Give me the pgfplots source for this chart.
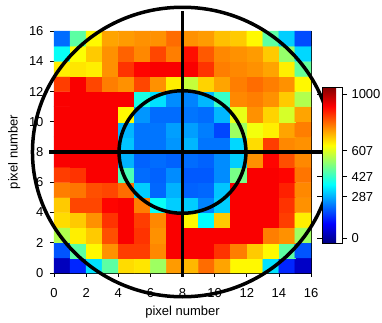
\documentclass[border=0pt]{standalone}
\usepackage{pgfplots}
\pgfplotsset{compat=1.18}
\usepackage{fontspec}
\setmainfont{Liberation Sans}
\begin{document}
\begin{tikzpicture}
\begin{axis}[
 at={(0,0)}, anchor=south west,
 scale only axis, width=257pt, height=242pt,
 xmin=0, xmax=16, ymin=0, ymax=16,
 enlargelimits=false,
 xtick={0,2,...,16}, ytick={0,2,...,16},
 tick align=outside, tick pos=left, major tick length=4pt,
 tick style={black, line width=0.6pt},
 /pgf/number format/assume math mode=true,
 ticklabel style={font=\fontsize{13}{15}\selectfont},
 xticklabel style={yshift=-8pt},
 yticklabel style={xshift=-3pt},
 label style={font=\fontsize{13}{15}\selectfont},
 xlabel={pixel number}, ylabel={pixel number},
 xlabel style={at={(axis description cs:0.5,0)}, anchor=center, yshift=-39pt},
 ylabel style={at={(axis description cs:-0.155,0.5)}, anchor=center},
 colormap/jet, point meta min=-35, point meta max=1050,
 colorbar,
 colorbar style={
   at={(1.0428,0.124)}, anchor=south west,
   scale only axis, width=20pt, height=156pt,
   ytick={0,287,427,607,1000},
   yticklabel pos=right,
   tick align=outside, major tick length=5pt,
   /pgf/number format/assume math mode=true,
   /pgf/number format/1000 sep={},
   yticklabel style={font=\fontsize{13}{15}\selectfont, xshift=1pt},
 },
 clip=false,
]
\addplot[matrix plot*, mesh/cols=16, mesh/rows=16, point meta=explicit] coordinates {
(0.5,0.5)[30] (1.5,0.5)[140] (2.5,0.5)[340] (3.5,0.5)[470] (4.5,0.5)[680] (5.5,0.5)[670] (6.5,0.5)[540] (7.5,0.5)[750] (8.5,0.5)[720] (9.5,0.5)[800] (10.5,0.5)[740] (11.5,0.5)[650] (12.5,0.5)[650] (13.5,0.5)[340] (14.5,0.5)[140] (15.5,0.5)[40]
(0.5,1.5)[190] (1.5,1.5)[470] (2.5,1.5)[650] (3.5,1.5)[760] (4.5,1.5)[850] (5.5,1.5)[850] (6.5,1.5)[770] (7.5,1.5)[920] (8.5,1.5)[920] (9.5,1.5)[920] (10.5,1.5)[860] (11.5,1.5)[780] (12.5,1.5)[700] (13.5,1.5)[650] (14.5,1.5)[470] (15.5,1.5)[190]
(0.5,2.5)[560] (1.5,2.5)[660] (2.5,2.5)[700] (3.5,2.5)[830] (4.5,2.5)[920] (5.5,2.5)[860] (6.5,2.5)[760] (7.5,2.5)[920] (8.5,2.5)[920] (9.5,2.5)[920] (10.5,2.5)[920] (11.5,2.5)[920] (12.5,2.5)[920] (13.5,2.5)[780] (14.5,2.5)[760] (15.5,2.5)[540]
(0.5,3.5)[680] (1.5,3.5)[700] (2.5,3.5)[760] (3.5,3.5)[860] (4.5,3.5)[920] (5.5,3.5)[850] (6.5,3.5)[770] (7.5,3.5)[920] (8.5,3.5)[650] (9.5,3.5)[370] (10.5,3.5)[700] (11.5,3.5)[920] (12.5,3.5)[920] (13.5,3.5)[920] (14.5,3.5)[850] (15.5,3.5)[660]
(0.5,4.5)[700] (1.5,4.5)[840] (2.5,4.5)[840] (3.5,4.5)[910] (4.5,4.5)[920] (5.5,4.5)[780] (6.5,4.5)[380] (7.5,4.5)[320] (8.5,4.5)[320] (9.5,4.5)[240] (10.5,4.5)[320] (11.5,4.5)[920] (12.5,4.5)[920] (13.5,4.5)[920] (14.5,4.5)[860] (15.5,4.5)[760]
(0.5,5.5)[780] (1.5,5.5)[790] (2.5,5.5)[830] (3.5,5.5)[840] (4.5,5.5)[800] (5.5,5.5)[320] (6.5,5.5)[210] (7.5,5.5)[290] (8.5,5.5)[205] (9.5,5.5)[210] (10.5,5.5)[310] (11.5,5.5)[920] (12.5,5.5)[920] (13.5,5.5)[920] (14.5,5.5)[880] (15.5,5.5)[770]
(0.5,6.5)[850] (1.5,6.5)[860] (2.5,6.5)[920] (3.5,6.5)[920] (4.5,6.5)[450] (5.5,6.5)[215] (6.5,6.5)[205] (7.5,6.5)[250] (8.5,6.5)[195] (9.5,6.5)[195] (10.5,6.5)[250] (11.5,6.5)[500] (12.5,6.5)[920] (13.5,6.5)[920] (14.5,6.5)[910] (15.5,6.5)[790]
(0.5,7.5)[920] (1.5,7.5)[920] (2.5,7.5)[920] (3.5,7.5)[920] (4.5,7.5)[290] (5.5,7.5)[205] (6.5,7.5)[215] (7.5,7.5)[205] (8.5,7.5)[215] (9.5,7.5)[205] (10.5,7.5)[250] (11.5,7.5)[320] (12.5,7.5)[760] (13.5,7.5)[910] (14.5,7.5)[830] (15.5,7.5)[770]
(0.5,8.5)[920] (1.5,8.5)[920] (2.5,8.5)[920] (3.5,8.5)[920] (4.5,8.5)[310] (5.5,8.5)[225] (6.5,8.5)[225] (7.5,8.5)[260] (8.5,8.5)[295] (9.5,8.5)[225] (10.5,8.5)[225] (11.5,8.5)[330] (12.5,8.5)[680] (13.5,8.5)[850] (14.5,8.5)[770] (15.5,8.5)[760]
(0.5,9.5)[920] (1.5,9.5)[920] (2.5,9.5)[920] (3.5,9.5)[920] (4.5,9.5)[295] (5.5,9.5)[225] (6.5,9.5)[225] (7.5,9.5)[270] (8.5,9.5)[270] (9.5,9.5)[235] (10.5,9.5)[175] (11.5,9.5)[540] (12.5,9.5)[630] (13.5,9.5)[660] (14.5,9.5)[740] (15.5,9.5)[780]
(0.5,10.5)[920] (1.5,10.5)[920] (2.5,10.5)[920] (3.5,10.5)[920] (4.5,10.5)[650] (5.5,10.5)[260] (6.5,10.5)[215] (7.5,10.5)[215] (8.5,10.5)[225] (9.5,10.5)[215] (10.5,10.5)[295] (11.5,10.5)[620] (12.5,10.5)[760] (13.5,10.5)[690] (14.5,10.5)[600] (15.5,10.5)[740]
(0.5,11.5)[920] (1.5,11.5)[920] (2.5,11.5)[920] (3.5,11.5)[920] (4.5,11.5)[920] (5.5,11.5)[400] (6.5,11.5)[340] (7.5,11.5)[250] (8.5,11.5)[240] (9.5,11.5)[295] (10.5,11.5)[430] (11.5,11.5)[770] (12.5,11.5)[780] (13.5,11.5)[760] (14.5,11.5)[700] (15.5,11.5)[560]
(0.5,12.5)[850] (1.5,12.5)[920] (2.5,12.5)[840] (3.5,12.5)[780] (4.5,12.5)[760] (5.5,12.5)[840] (6.5,12.5)[760] (7.5,12.5)[660] (8.5,12.5)[580] (9.5,12.5)[690] (10.5,12.5)[740] (11.5,12.5)[780] (12.5,12.5)[800] (13.5,12.5)[780] (14.5,12.5)[760] (15.5,12.5)[650]
(0.5,13.5)[660] (1.5,13.5)[670] (2.5,13.5)[660] (3.5,13.5)[760] (4.5,13.5)[860] (5.5,13.5)[910] (6.5,13.5)[920] (7.5,13.5)[920] (8.5,13.5)[920] (9.5,13.5)[860] (10.5,13.5)[780] (11.5,13.5)[770] (12.5,13.5)[760] (13.5,13.5)[740] (14.5,13.5)[660] (15.5,13.5)[480]
(0.5,14.5)[380] (1.5,14.5)[640] (2.5,14.5)[700] (3.5,14.5)[760] (4.5,14.5)[810] (5.5,14.5)[770] (6.5,14.5)[840] (7.5,14.5)[780] (8.5,14.5)[900] (9.5,14.5)[820] (10.5,14.5)[770] (11.5,14.5)[760] (12.5,14.5)[750] (13.5,14.5)[700] (14.5,14.5)[530] (15.5,14.5)[330]
(0.5,15.5)[215] (1.5,15.5)[470] (2.5,15.5)[650] (3.5,15.5)[740] (4.5,15.5)[750] (5.5,15.5)[760] (6.5,15.5)[760] (7.5,15.5)[800] (8.5,15.5)[760] (9.5,15.5)[750] (10.5,15.5)[710] (11.5,15.5)[700] (12.5,15.5)[650] (13.5,15.5)[470] (14.5,15.5)[320] (15.5,15.5)[180]
};
\draw[line width=3.5pt] (axis cs:8,8) ellipse [x radius=9.34, y radius=9.57];
\draw[line width=3.5pt] (axis cs:8,8) ellipse [x radius=3.95, y radius=4.05];
\draw[line width=3.2pt] (axis cs:8,-0.25) -- (axis cs:8,17.3);
\draw[line width=3.2pt] (axis cs:-0.3,8) -- (axis cs:16.75,8);
\end{axis}
\pgfresetboundingbox
\path (-54pt,-49pt) rectangle (328pt,273pt);
\end{tikzpicture}
\end{document}
